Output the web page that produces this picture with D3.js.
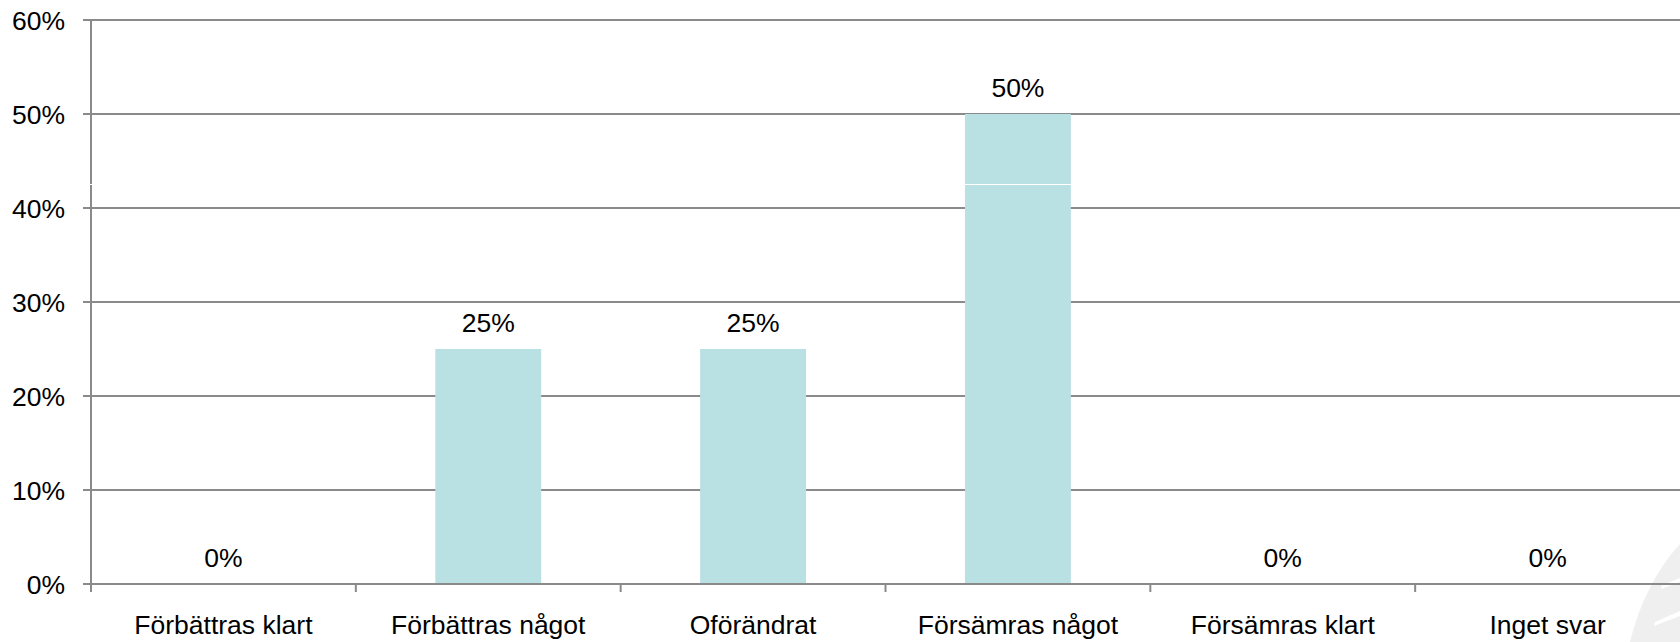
<!DOCTYPE html>
<html>
<head>
<meta charset="utf-8">
<script src="https://cdn.jsdelivr.net/npm/d3@7"></script>
<style>
  html, body { margin: 0; padding: 0; background: #fff; }
  svg { display: block; }
  text { font-family: "Liberation Sans", Arial, sans-serif; fill: #000; }
</style>
</head>
<body>
<svg id="chart" width="1680" height="642"></svg>
<script>
const categories = ["Förbättras klart", "Förbättras något", "Oförändrat", "Försämras något", "Försämras klart", "Inget svar"];
const values = [0, 0.25, 0.25, 0.5, 0, 0];
const yTicks = [0, 0.1, 0.2, 0.3, 0.4, 0.5, 0.6];

(function () {
const mLeft = 91, mRight = 1680, mTop = 20, mBottom = 584;
const fs = 26.5;
const svg = d3.select("#chart");

// watermark swoosh in the bottom-right corner
svg.append("path")
  .attr("d", "M1630,642 C1638,610 1652,575 1680,544 L1680,642 Z")
  .attr("fill", "#efefef");
svg.append("path")
  .attr("d", "M1655,622 L1680,611 L1680,616 L1654,626 Z")
  .attr("fill", "#fff");
svg.append("path")
  .attr("d", "M1662,585 L1680,578 L1680,582 L1661,589 Z")
  .attr("fill", "#fff");

const x = d3.scaleBand().domain(categories).range([mLeft, mRight]).padding(0);
const y = d3.scaleLinear().domain([0, 0.6]).range([mBottom, mTop]);
const fmt = d3.format(".0%");
const gridColor = "#8a8a8a";

// gridlines
svg.append("g").selectAll("line").data(yTicks).join("line")
  .attr("x1", mLeft - 8).attr("x2", mRight)
  .attr("y1", d => y(d)).attr("y2", d => y(d))
  .attr("stroke", gridColor).attr("stroke-width", 2);

// y tick labels
svg.append("g").selectAll("text").data(yTicks).join("text")
  .attr("x", 65).attr("y", d => y(d) + 9.5)
  .attr("text-anchor", "end")
  .attr("font-size", fs)
  .text(d => fmt(d));

// y axis line
svg.append("line")
  .attr("x1", mLeft).attr("x2", mLeft)
  .attr("y1", mTop).attr("y2", mBottom + 8)
  .attr("stroke", gridColor).attr("stroke-width", 2);

// x ticks at category boundaries
const bounds = categories.slice(1).map(c => x(c));
svg.append("g").selectAll("line").data(bounds).join("line")
  .attr("x1", d => d).attr("x2", d => d)
  .attr("y1", mBottom).attr("y2", mBottom + 8)
  .attr("stroke", gridColor).attr("stroke-width", 2);

// bars
const bw = x.bandwidth() * 0.4;
svg.append("g").selectAll("rect").data(values).join("rect")
  .attr("x", (d, i) => x(categories[i]) + x.bandwidth() / 2 - bw / 2)
  .attr("width", bw)
  .attr("y", d => y(d))
  .attr("height", d => Math.max(0, y(0) - y(d) - 1))
  .attr("fill", "#b9e0e3");

// thin white artifact line across the plot
svg.append("line")
  .attr("x1", mLeft - 2).attr("x2", mRight)
  .attr("y1", 184.5).attr("y2", 184.5)
  .attr("stroke", "#fff").attr("stroke-width", 1);

// data labels
svg.append("g").selectAll("text").data(values).join("text")
  .attr("x", (d, i) => x(categories[i]) + x.bandwidth() / 2)
  .attr("y", d => y(d) - 17)
  .attr("text-anchor", "middle")
  .attr("font-size", fs)
  .text(d => fmt(d));

// category labels
svg.append("g").selectAll("text").data(categories).join("text")
  .attr("x", d => x(d) + x.bandwidth() / 2)
  .attr("y", 634)
  .attr("text-anchor", "middle")
  .attr("font-size", fs)
  .text(d => d);
})();
</script>
</body>
</html>
